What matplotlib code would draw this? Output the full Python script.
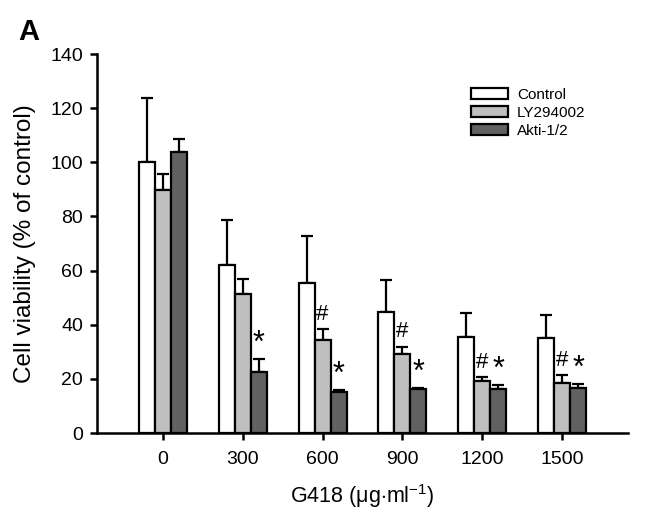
import matplotlib
matplotlib.use('Agg')
import matplotlib.pyplot as plt
import numpy as np

plt.rcParams['font.family'] = ['Liberation Sans', 'DejaVu Sans']
plt.rcParams['mathtext.fontset'] = 'custom'
plt.rcParams['mathtext.rm'] = 'Liberation Sans'
plt.rcParams['mathtext.it'] = 'Liberation Sans:italic'

# data
doses = ['0', '300', '600', '900', '1200', '1500']
series = ['Control', 'LY294002', 'Akti-1/2']
control = [100, 62.2, 55.3, 44.6, 35.3, 35.0]
control_err = [23.8, 16.5, 17.6, 11.8, 8.9, 8.5]
ly = [89.6, 51.3, 34.4, 29.1, 19.2, 18.5]
ly_err = [6.1, 5.6, 4.0, 2.8, 1.5, 2.9]
akti = [103.9, 22.4, 15.3, 16.3, 16.3, 16.7]
akti_err = [4.7, 5.1, 0.6, 0.5, 1.4, 1.5]
hash_marks = [False, False, True, True, True, True]   # vs control, LY294002
star_marks = [False, True, True, True, True, True]    # vs control, Akti-1/2

colors = ['white', '#bfbfbf', '#616161']

fig = plt.figure(figsize=(6.58, 5.14), dpi=100)
ax = fig.add_axes([97 / 658, 1 - 433 / 514, 531 / 658, 379 / 514])

x = np.arange(len(doses))
w = 0.2
vals = [control, ly, akti]
errs = [control_err, ly_err, akti_err]
for i in range(3):
    xi = x + (i - 1) * w
    ax.bar(xi, vals[i], width=w, color=colors[i], edgecolor='black',
           linewidth=1.6, label=series[i], zorder=2)
    ax.errorbar(xi, vals[i], yerr=[np.zeros(len(doses)), errs[i]], fmt='none',
                ecolor='black', elinewidth=1.6, capsize=4, capthick=1.6, zorder=1)

# significance marks
for j in range(len(doses)):
    if hash_marks[j]:
        ax.annotate('#', (x[j], ly[j] + ly_err[j]), xytext=(0, 3),
                    textcoords='offset points', ha='center', va='bottom',
                    fontsize=16)
    if star_marks[j]:
        ax.annotate('*', (x[j] + w, akti[j] + akti_err[j]), xytext=(0, 0),
                    textcoords='offset points', ha='center', va='bottom',
                    fontsize=22)

ax.set_xlim(-0.82, 5.82)
ax.set_ylim(0, 140)
ax.set_yticks(range(0, 141, 20))
ax.set_xticks(x)
ax.set_xticklabels(doses)
ax.tick_params(labelsize=14, width=1.8, length=5, direction='out')
ax.tick_params(axis='x', pad=8)
ax.tick_params(axis='y', pad=5)
ax.spines['top'].set_visible(False)
ax.spines['right'].set_visible(False)
ax.spines['left'].set_linewidth(1.8)
ax.spines['bottom'].set_linewidth(1.8)

ax.set_ylabel('Cell viability (% of control)', fontsize=17.5, labelpad=10)
ax.set_xlabel('G418 ($\\mathrm{\\mu}$g$\\cdot$ml$^{-1}$)', fontsize=15.5, labelpad=10)

leg = ax.legend(loc='upper left', bbox_to_anchor=(0.69, 0.93), frameon=False,
                fontsize=11, handlelength=2.4, handleheight=0.7,
                labelspacing=0.25, borderpad=0, handletextpad=0.6)

fig.text(18 / 658, 1 - 40 / 514, 'A', fontsize=21, fontweight='bold', va='baseline')

fig.savefig('out.png', dpi=100)
